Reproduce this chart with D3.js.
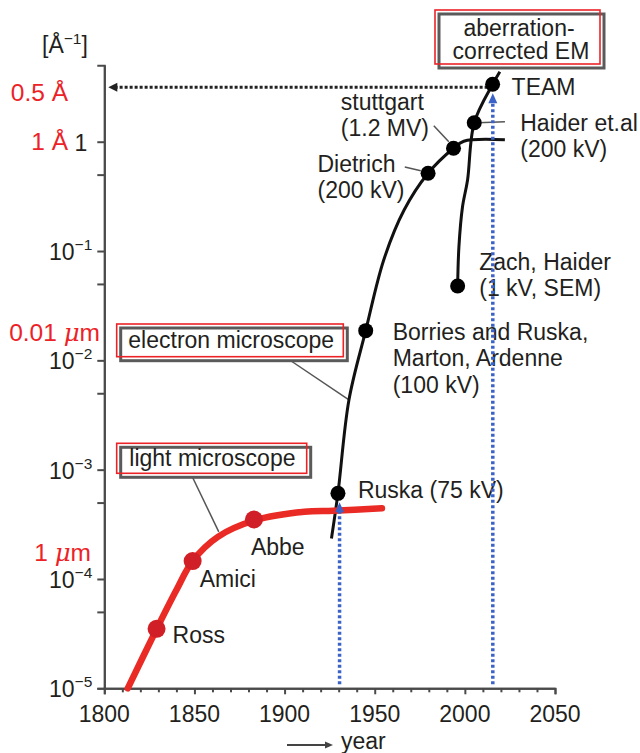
<!DOCTYPE html>
<html>
<head>
<meta charset="utf-8">
<script src="https://cdn.jsdelivr.net/npm/d3@7"></script>
<style>
body { margin: 0; background: #fff; }
text { font-family: "Liberation Sans", Arial, sans-serif; fill: #231f20; }
</style>
</head>
<body>
<div id="chart"></div>
<script>
//resolution data, values in 1/Å

//light microscope curve
var lightYears = [1813, 1829, 1840, 1849, 1863, 1884, 1911, 1927, 1954];
var lightVals  = [1.0e-5, 3.48e-5, 7.92e-5, 1.46e-4, 2.43e-4, 3.46e-4, 4.12e-4, 4.21e-4, 4.43e-4];
var lightNames = ["Ross", "Amici", "Abbe"];
var lightNameYears = [1829, 1849, 1883];
var lightNameVals  = [3.5e-5, 1.46e-4, 3.5e-4];

//electron microscope curve
var emYears = [1926, 1929.6, 1935.7, 1945, 1955, 1966.3, 1979.6, 1993.7, 1999.4, 2022.2];
var emVals  = [2.35e-4, 6.07e-4, 4.34e-3, 0.0187, 0.0828, 0.237, 0.514, 0.871, 1.01, 1.04];
var emNames = ["Ruska (75 kV)", "Borries and Ruska,|Marton, Ardenne|(100 kV)", "Dietrich|(200 kV)", "stuttgart|(1.2 MV)"];
var emNameYears = [1929.6, 1945, 1979.6, 1993.7];
var emNameVals  = [6.07e-4, 0.0187, 0.514, 0.871];

//aberration-corrected curve
var acYears = [1996, 1996.7, 1998.7, 2001.5, 2005.2, 2015.4, 2019.4];
var acVals  = [0.0479, 0.109, 0.254, 0.447, 1.49, 3.35, 4.37];
var acNames = ["Zach, Haider|(1 kV, SEM)", "Haider et.al|(200 kV)", "TEAM"];
var acNameYears = [1996, 2005.2, 2015.4];
var acNameVals  = [0.0479, 1.49, 3.35];

//blue arrows up from the time axis
var arrowYears = [1930.5, 2015.5];
var arrowVals  = [6.07e-4, 3.35];

//axis ticks
var xMajor = [1800, 1850, 1900, 1950, 2000, 2050];
var xMinor = [1810, 1820, 1830, 1840, 1860, 1870, 1880, 1890, 1910, 1920, 1930, 1940,
              1960, 1970, 1980, 1990, 2010, 2020, 2030, 2040];
var yMajor = [1, 1e-1, 1e-2, 1e-3, 1e-4, 1e-5];
var yMajorExp = ["", "\u22121", "\u22122", "\u22123", "\u22124", "\u22125"];
var yMinor = [0.5, 0.05, 0.005, 5e-4, 5e-5];

//red unit labels
var unitLabels = ["0.5 Å", "1 Å", "0.01 |μ|m", "1 |μ|m"];
var unitVals = [3.35, 1, 0.01, 1e-4];

//setup
var width = 640, height = 753;
var fs = "23px";
var svg = d3.select("#chart").append("svg")
	.attr("width", width)
	.attr("height", height);

var x = d3.scaleLinear().domain([1800, 2050]).range([104.3, 555]);
var y = d3.scaleLog().domain([1e-5, 5]).range([688.3, 65.3]);

var axisColor = "#4a4a4a";
var red = "#ec2227";

//x axis
var xAxis = svg.append("g").attr("transform", "translate(0," + y(1e-5) + ")");
xAxis.call(d3.axisBottom(x).tickValues(xMajor).tickSize(6).tickFormat(""));
xAxis.append("g").call(d3.axisBottom(x).tickValues(xMinor).tickSize(4).tickSizeOuter(0).tickFormat(""));
xAxis.selectAll("path,line").attr("stroke", axisColor).attr("stroke-width", 2);
xAxis.selectAll(".xlab").data(xMajor).enter().append("text")
	.attr("x", function (d) { return x(d); })
	.attr("y", 33.5)
	.attr("text-anchor", "middle")
	.attr("font-size", fs)
	.text(function (d) { return d; });

//y axis
var yAxis = svg.append("g").attr("transform", "translate(" + x(1800) + ",0)");
yAxis.call(d3.axisLeft(y).tickValues(yMajor).tickSize(7).tickSizeOuter(7).tickFormat(""));
yAxis.append("g").call(d3.axisLeft(y).tickValues(yMinor).tickSize(7).tickSizeOuter(0).tickFormat(""));
yAxis.selectAll("path,line").attr("stroke", axisColor).attr("stroke-width", 2);
yMajor.forEach(function (v, i) {
	var t = yAxis.append("text")
		.attr("x", i == 0 ? -17 : -12)
		.attr("y", y(v) + 9)
		.attr("text-anchor", "end")
		.attr("font-size", fs);
	if (i == 0) { t.text("1"); return; }
	t.append("tspan").text("10");
	t.append("tspan").attr("dy", -10).attr("font-size", "15.5px").text(yMajorExp[i]);
});

//unit label on top of y axis
var unit = svg.append("text").attr("x", 42).attr("y", 53).attr("font-size", fs);
unit.append("tspan").text("[Å");
unit.append("tspan").attr("dy", -9).attr("font-size", "15.5px").text("\u22121");
unit.append("tspan").attr("dy", 9).text("]");

//red labels left of y axis
var unitDy = [17, 8, -19, -18];
var unitX = [68, 68, 100, 91];
unitLabels.forEach(function (s, i) {
	var parts = s.split("|");
	var t = svg.append("text")
		.attr("x", unitX[i])
		.attr("y", y(unitVals[i]) + unitDy[i])
		.attr("text-anchor", "end")
		.attr("font-size", "24.5px")
		.style("fill", red);
	parts.forEach(function (p, j) {
		t.append("tspan").style("fill", red)
			.attr("font-style", j == 1 ? "italic" : null)
			.attr("font-family", j == 1 ? "'DejaVu Serif', serif" : null)
			.text(p);
	});
});

//label boxes: red frame offset up-left from the grey frame
function labelBox(rx, ry, w, h, lines, cx) {
	svg.append("rect").attr("x", rx + 4).attr("y", ry + 4).attr("width", w).attr("height", h)
		.attr("fill", "#fff").attr("stroke", "#5a5a5a").attr("stroke-width", 3);
	svg.append("rect").attr("x", rx).attr("y", ry).attr("width", w).attr("height", h)
		.attr("fill", "none").attr("stroke", red).attr("stroke-width", 1.6);
	lines.forEach(function (l) {
		svg.append("text").attr("x", l[0]).attr("y", l[1])
			.attr("text-anchor", cx ? "middle" : "start")
			.attr("font-size", fs).text(l[2]);
	});
}

var line = d3.line()
	.x(function (d) { return x(d[0]); })
	.y(function (d) { return y(d[1]); })
	.curve(d3.curveCatmullRom.alpha(0.5));

//leader lines from boxes to curves
svg.append("line").attr("x1", 286.7).attr("y1", 358)
	.attr("x2", x(1935.7)).attr("y2", y(4.34e-3))
	.attr("stroke", "#555").attr("stroke-width", 1.5);
svg.append("line").attr("x1", 190).attr("y1", 472)
	.attr("x2", x(1863.5)).attr("y2", y(2.7e-4))
	.attr("stroke", "#555").attr("stroke-width", 1.5);

//dotted line TEAM -> y axis
svg.append("line")
	.attr("x1", x(acNameYears[2])).attr("y1", y(acNameVals[2]) + 3)
	.attr("x2", x(1800) + 10).attr("y2", y(acNameVals[2]) + 3)
	.attr("stroke", "#222").attr("stroke-width", 3).attr("stroke-dasharray", "3,2");
svg.append("path")
	.attr("d", "M" + (x(1800) + 4) + "," + (y(acNameVals[2]) + 3) + "l9,-4.5v9z")
	.attr("fill", "#222");

//electron microscope curves
svg.append("path").datum(d3.zip(emYears, emVals)).attr("d", line)
	.attr("fill", "none").attr("stroke", "#111").attr("stroke-width", 3);
svg.append("path").datum(d3.zip(acYears, acVals)).attr("d", line)
	.attr("fill", "none").attr("stroke", "#111").attr("stroke-width", 3);

//light microscope curve
svg.append("path").datum(d3.zip(lightYears, lightVals)).attr("d", line)
	.attr("fill", "none").attr("stroke", "#ea2a24").attr("stroke-width", 6.5).attr("stroke-linecap", "round");

//small leaders near top
function leader(yr, v, a, b, c, d) {
	svg.append("line")
		.attr("x1", x(yr) + a).attr("y1", y(v) + b)
		.attr("x2", x(yr) + c).attr("y2", y(v) + d)
		.attr("stroke", "#555").attr("stroke-width", 1.5);
}
leader(emNameYears[3], emNameVals[3], -19.7, -22.6, -4.7, -6.6);
leader(emNameYears[2], emNameVals[2], -23.3, -6.3, -7.3, -2.6);
leader(acNameYears[1], acNameVals[1], 3.7, 0, 30.7, -1);

//dots
svg.selectAll(".ldot").data(d3.zip(lightNameYears, lightNameVals)).enter().append("circle")
	.attr("cx", function (d) { return x(d[0]); })
	.attr("cy", function (d) { return y(d[1]); })
	.attr("r", 9).attr("fill", "#d01f26");
svg.selectAll(".edot").data(d3.zip(emNameYears, emNameVals).concat(d3.zip(acNameYears, acNameVals))).enter().append("circle")
	.attr("cx", function (d) { return x(d[0]); })
	.attr("cy", function (d) { return y(d[1]); })
	.attr("r", 7.5).attr("fill", "#000");

//point labels, offsets in pixels from their dot
function pointLabel(name, yr, v, dx, dy, anchor) {
	name.split("|").forEach(function (s, i) {
		svg.append("text")
			.attr("x", x(yr) + dx).attr("y", y(v) + dy + i * 26.5)
			.attr("text-anchor", anchor || "start")
			.attr("font-size", fs).text(s);
	});
}
var lightOff = [[16, 14], [7, 26], [-3, 35]];
lightNames.forEach(function (n, i) { pointLabel(n, lightNameYears[i], lightNameVals[i], lightOff[i][0], lightOff[i][1]); });
var emOff = [[20, 5], [27, 9.3], [-110.6, -1.6], [-112.7, -38.3]];
emNames.forEach(function (n, i) { pointLabel(n, emNameYears[i], emNameVals[i], emOff[i][0], emOff[i][1]); });
var acOff = [[21.6, -16], [46, 8], [19, 10.7]];
acNames.forEach(function (n, i) { pointLabel(n, acNameYears[i], acNameVals[i], acOff[i][0], acOff[i][1]); });

//boxes
labelBox(435, 10, 165, 54, [[519, 35.5, "aberration-"], [521, 58.5, "corrected EM"]], true);
labelBox(116.7, 324, 226.6, 32.7, [[128.3, 348.3, "electron microscope"]]);
labelBox(116.7, 443.3, 190, 30, [[129.3, 466, "light microscope"]]);

//blue dotted arrows
arrowYears.forEach(function (yr, i) {
	var tip = y(arrowVals[i]) + 9;
	svg.append("line")
		.attr("x1", x(yr)).attr("y1", y(1e-5) - 4)
		.attr("x2", x(yr)).attr("y2", tip + 8)
		.attr("stroke", "#3b62c6").attr("stroke-width", 3.5).attr("stroke-dasharray", "3,2.5");
	svg.append("path")
		.attr("d", "M" + x(yr) + "," + tip + "l-4.5,10h9z")
		.attr("fill", "#3b62c6");
});

//year label with arrow
svg.append("line").attr("x1", 287).attr("y1", 745).attr("x2", 326).attr("y2", 745)
	.attr("stroke", "#444").attr("stroke-width", 2);
svg.append("path").attr("d", "M333,745l-8,-3.5v7z").attr("fill", "#444");
svg.append("text").attr("x", 341).attr("y", 749).attr("font-size", fs).text("year");
</script>
</body>
</html>
